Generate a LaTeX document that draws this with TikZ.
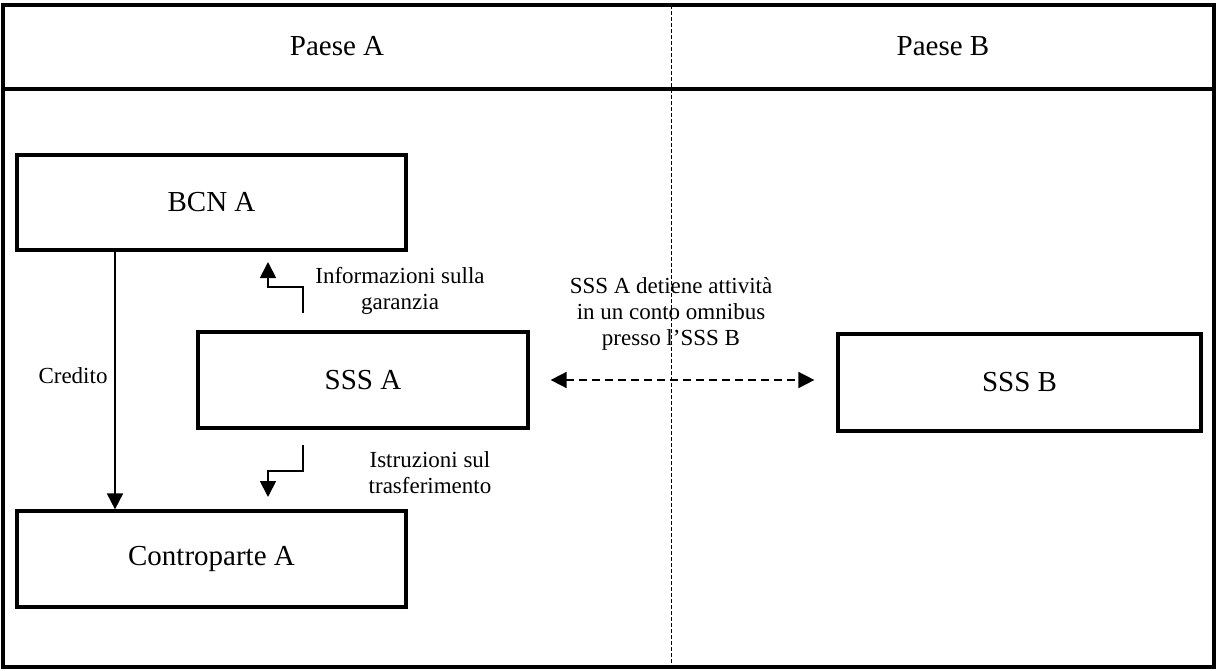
\documentclass[tikz,border=0pt]{standalone}
\usepackage{fontspec}
\setmainfont{Liberation Serif}
\usetikzlibrary{arrows.meta,positioning,calc}

\begin{document}
\begin{tikzpicture}[x=1pt,y=-1pt,
  blk/.style={draw,line width=3.2pt,inner sep=2pt,font=\fontsize{29}{32}\selectfont,align=center},
  lbl/.style={font=\fontsize{23}{26}\selectfont,align=center,inner sep=1pt},
  hdr/.style={font=\fontsize{29}{32}\selectfont},
  arr/.style={-{Triangle[length=16pt,width=16pt]},line width=1.8pt},
  darr/.style={{Triangle[length=16pt,width=16pt]}-{Triangle[length=16pt,width=16pt]},line width=1.6pt,dash pattern=on 8pt off 5pt}]
\useasboundingbox (0,0) rectangle (1218,671);
% frame and country columns
\draw[line width=3.6pt] (3,5) rectangle (1214,667);
\draw[line width=4pt] (3,89) -- (1214,89);
\draw[line width=1pt,dash pattern=on 4pt off 2pt] (671,5) -- (671,667);
\node[hdr] (pa) at (337,46) {Paese A};
\node[hdr] (pb) at (943,46) {Paese B};
% boxes
\node[blk,minimum width=389pt,minimum height=95pt] (bcn) at (211.5,202.5) {BCN A};
\node[blk,minimum width=330pt,minimum height=96pt] (sssa) at (363,380) {SSS A};
\node[blk,minimum width=389pt,minimum height=96pt] (cp) at (211.5,559) {Controparte A};
\node[blk,minimum width=363pt,minimum height=97pt] (sssb) at (1019.5,382.5) {SSS B};
% credit
\coordinate (crx) at (115,0);
\draw[arr] (bcn.south -| crx) -- (cp.north -| crx);
\node[lbl] (cred) at (73,376) {Credito};
% collateral info / transfer instructions
\coordinate (infS) at (303,313);
\coordinate (infE) at (268,262);
\draw[arr] (infS) |- ($(infS)!0.5!(infE)+(0,-0.5)$) -| (infE);
\node[lbl] (inf) at (400,291) {Informazioni sulla\\garanzia};
\coordinate (istS) at (303,445);
\coordinate (istE) at (268,497);
\draw[arr] (istS) |- ($(istS)!0.5!(istE)$) -| (istE);
\node[lbl] (ist) at (430,473) {Istruzioni sul\\trasferimento};
% omnibus account
\draw[darr,shorten <=21pt,shorten >=22pt] (sssa.east) -- (sssa.east -| sssb.west);
\node[lbl] (omn) at (671,314) {SSS A detiene attività\\in un conto omnibus\\presso l'SSS B};
\end{tikzpicture}
\end{document}
